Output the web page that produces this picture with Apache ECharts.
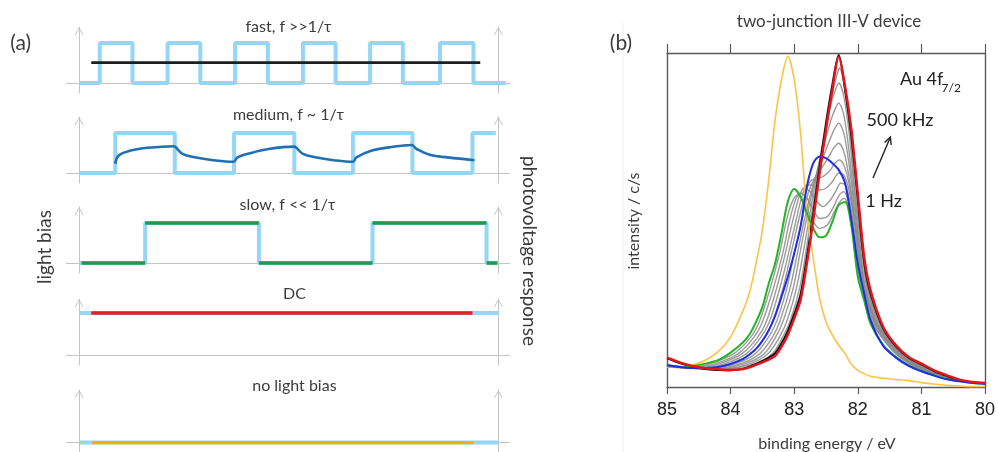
<!DOCTYPE html>
<html>
<head>
<meta charset="utf-8">
<script src="https://cdn.jsdelivr.net/npm/echarts@6/dist/echarts.min.js"></script>
<style>
  html, body { margin: 0; padding: 0; background: #ffffff; }
  #chart { width: 998px; height: 452px; }
</style>
</head>
<body>
<div id="chart"></div>
<script>
// ---------- (a) light bias waveforms, time in arbitrary units (0 .. 100 between the two axes) ----------
const fastEdges = [4.94, 12.74, 21.12, 28.92, 37.22, 45.03, 53.4, 61.2, 69.43, 77.24, 86.09, 94.08];
const fastEnd = 101.8;
const fastMeanLevel = 0.51;
const fastMeanSpan = [2.9, 95.7];

const mediumEdges = [8.64, 22.83, 36.98, 51.35, 65.33, 79.53, 93.84];
const mediumEnd = 99.4;
// photovoltage response under medium-frequency chopping: [time, level]
const mediumResponse = [
  [8.64, 0.23], [9.46, 0.44], [12.34, 0.56], [16.44, 0.63], [22.6, 0.67],
  [23.0, 0.65], [24.65, 0.48], [27.94, 0.39], [32.05, 0.32], [36.82, 0.28],
  [37.8, 0.39], [40.27, 0.48], [45.2, 0.60], [51.35, 0.66],
  [51.77, 0.64], [53.4, 0.48], [56.7, 0.39], [60.8, 0.32], [65.33, 0.28],
  [66.15, 0.39], [69.85, 0.56], [73.96, 0.64], [79.3, 0.70],
  [80.53, 0.60], [83.82, 0.45], [87.93, 0.39], [94.34, 0.32]
];

const slowEdges = [15.77, 42.9, 70.0, 97.2];
const slowStart = 0.6;
const slowEnd = 99.8;

const dcLevel = 1.05;
const dcSpan = [2.9, 93.85];
const darkSpan = [3.1, 94.1];

// ---------- (b) Au 4f7/2 spectra, binding energy (eV) vs intensity (c/s, scaled) ----------
const energy = [85.0, 84.8, 84.6, 84.4, 84.2, 84.0, 83.8, 83.7, 83.6, 83.5, 83.4, 83.3, 83.2, 83.1, 83.0, 82.9,
  82.8, 82.7, 82.6, 82.5, 82.4, 82.3, 82.2, 82.1, 82.0, 81.9, 81.8, 81.6, 81.4, 81.2, 81.0, 80.8, 80.6, 80.4, 80.2, 80.0];

const spectrumDC = [8.8, 7.4, 6.3, 5.6, 5.3, 5.1, 5.4, 5.9, 6.6, 7.4, 8.2, 9.3, 12, 15.6, 20.5, 26,
  37, 50, 64, 77, 89, 98.8, 90, 77, 58, 39, 29, 18, 12.5, 9, 7, 5, 3.5, 2.2, 1.5, 1.2];
const spectrumFast = [8.6, 7.2, 6.1, 5.4, 5.1, 5.0, 5.5, 6.1, 6.9, 7.8, 8.8, 10.1, 13, 16.8, 21.8, 27.8,
  39, 52, 66, 79, 90.5, 99.4, 89, 75, 56, 37.5, 28, 17.5, 12.2, 8.8, 6.8, 4.8, 3.3, 2.0, 1.4, 1.1];
const spectrumDark = [6, 5.8, 6.5, 8, 10.5, 15, 23, 28.5, 37, 47, 62, 80, 92, 99, 92, 76,
  52, 38.5, 26.5, 19.5, 15.5, 12.5, 10, 6.8, 5, 4, 3.2, 2.6, 2.2, 1.9, 1.3, 0.9, 0.5, 0.3, 0.1, 0.2];
const spectrumMedium = [6.6, 6, 5.7, 5.7, 6, 6.9, 8.4, 9.8, 11.4, 13.8, 17, 21.3, 27, 33, 40, 48,
  60, 67, 69, 68.5, 67, 65, 61, 50, 37, 28, 20, 12.3, 8.8, 6.3, 4.7, 3.4, 2.3, 1.7, 1.2, 1];
const spectrumSlow = [6.3, 6, 6.3, 7, 8, 10.3, 13.5, 15.8, 19.5, 24, 31, 37, 46, 55.5, 59.3, 57,
  52, 47.5, 44.8, 45.3, 49.5, 54.5, 55.4, 48, 33, 26, 19, 12.5, 9, 6.5, 4.8, 3.5, 2.4, 1.8, 1.3, 1];

// intermediate chopping frequencies, 1 Hz ... 500 kHz: [energy, intensity]
const gray1 = [[85,6.5],[84.75,6.1],[84.55,6.1],[84.32,7],[83.95,10],[83.68,15],[83.54,20],[83.37,30],[83.23,40],[83.12,50],[83.03,55.5],[82.95,57.5],[82.85,55.5],[82.73,50.5],[82.6,47.5],[82.48,48.5],[82.38,52],[82.28,55.5],[82.21,56.5],[82.14,53.5],[82.08,47],[82.03,40],[81.96,30],[81.79,20],[81.63,15],[81.41,10],[81.2,7],[80.98,5],[80.6,3],[80.3,1.7],[80,1.1]];
const gray2 = [[85,6.5],[84.75,6.1],[84.55,6],[84.24,7],[83.88,10],[83.63,15],[83.49,20],[83.32,30],[83.18,40],[83.07,50],[82.98,56],[82.9,58],[82.8,56.5],[82.7,53],[82.6,50.5],[82.48,51],[82.38,54],[82.29,57.5],[82.22,58.5],[82.15,55.5],[82.08,48],[82.02,40],[81.95,30],[81.78,20],[81.62,15],[81.39,10],[81.18,7],[80.96,5],[80.6,3],[80.3,1.7],[80,1.1]];
const gray3 = [[85,6.4],[84.75,6],[84.5,5.8],[84.17,7],[83.82,10],[83.57,15],[83.43,20],[83.27,30],[83.14,40],[83.02,50],[82.93,56.5],[82.85,59.5],[82.75,58.5],[82.64,55.5],[82.55,54],[82.45,55.5],[82.35,58.5],[82.27,61],[82.2,60.5],[82.14,57],[82.07,49],[82.0,40],[81.93,30],[81.76,20],[81.6,15],[81.38,10],[81.17,7],[80.95,5],[80.6,3],[80.3,1.7],[80,1.1]];
const gray4 = [[85,6.4],[84.75,6],[84.45,5.7],[84.09,7],[83.75,10],[83.52,15],[83.38,20],[83.22,30],[83.09,40],[82.97,50],[82.88,57],[82.8,60.5],[82.7,60.5],[82.6,59],[82.5,59.5],[82.4,61.5],[82.3,64],[82.22,63.5],[82.14,59],[82.06,50],[81.99,40],[81.92,30],[81.75,20],[81.59,15],[81.36,10],[81.15,7],[80.93,5],[80.6,3],[80.3,1.7],[80,1.1]];
const gray5 = [[85,6.3],[84.75,5.9],[84.4,5.6],[84.01,7],[83.68,10],[83.46,15],[83.33,20],[83.17,30],[83.05,40],[82.93,50],[82.83,57.5],[82.75,61.5],[82.65,62.5],[82.55,63],[82.45,64.5],[82.36,67],[82.29,68],[82.21,66],[82.13,60],[82.05,50],[81.98,40],[81.91,30],[81.74,20],[81.58,15],[81.35,10],[81.13,7],[80.91,5],[80.6,3],[80.3,1.7],[80,1.1]];
const gray6 = [[85,6.2],[84.75,5.8],[84.35,5.5],[83.92,7],[83.61,10],[83.4,15],[83.27,20],[83.11,30],[83.0,40],[82.88,50],[82.78,58],[82.68,62.5],[82.57,65.5],[82.47,68.5],[82.38,71.5],[82.3,73],[82.22,70.5],[82.14,63],[82.05,51],[81.97,40],[81.9,30],[81.73,20],[81.57,15],[81.33,10],[81.12,7],[80.89,5],[80.6,3],[80.3,1.7],[80,1.1]];
const gray7 = [[85,6.2],[84.75,5.8],[84.3,5.4],[83.84,7],[83.54,10],[83.34,15],[83.22,20],[83.06,30],[82.95,40],[82.84,50],[82.74,58],[82.64,64],[82.54,69],[82.44,74],[82.36,77.5],[82.3,79],[82.22,76],[82.14,67],[82.05,53],[81.96,40],[81.89,30],[81.72,20],[81.56,15],[81.32,10],[81.11,7],[80.87,5],[80.6,3],[80.3,1.7],[80,1.1]];
const gray8 = [[85,6.2],[84.75,5.8],[84.25,5.3],[83.77,7],[83.47,10],[83.29,15],[83.17,20],[83.01,30],[82.91,40],[82.81,50],[82.71,59],[82.61,67],[82.51,74],[82.42,80],[82.35,83.5],[82.3,85],[82.22,81.5],[82.14,71],[82.05,55],[81.95,40],[81.88,30],[81.71,20],[81.55,15],[81.3,10],[81.09,7],[80.85,5],[80.6,3],[80.3,1.7],[80,1.1]];
const gray9 = [[85,6.3],[84.75,5.8],[84.2,5.2],[83.69,7],[83.41,10],[83.23,15],[83.11,20],[82.96,30],[82.86,40],[82.77,50],[82.68,60],[82.58,70],[82.49,78.5],[82.41,85.5],[82.34,89.5],[82.3,91],[82.22,87],[82.13,75],[82.04,56],[81.93,40],[81.86,30],[81.69,20],[81.53,15],[81.29,10],[81.08,7],[80.84,5],[80.6,3],[80.3,1.7],[80,1.1]];
const gray10 = [[85,6.4],[84.75,5.9],[84.2,5.2],[83.61,7],[83.34,10],[83.18,15],[83.06,20],[82.91,30],[82.82,40],[82.74,50],[82.64,62],[82.55,72],[82.46,82],[82.38,89.5],[82.32,94],[82.29,95.5],[82.22,91],[82.13,78],[82.04,58],[81.92,40],[81.85,30],[81.68,20],[81.52,15],[81.27,10],[81.06,7],[80.82,5],[80.6,3],[80.3,1.7],[80,1.1]];
const grayFamily = [gray1, gray2, gray3, gray4, gray5, gray6, gray7, gray8, gray9, gray10];

const energyTicks = [85, 84, 83, 82, 81, 80];

// ---------- styling ----------
const LIGHT = '#95d5f5';
const AXIS_A = '#c4c4c4';
const TEXT = '#3c3c3c';
const FONT = 'Lato, "Open Sans", sans-serif';
const CHEVRON = 'path://M0,8L4.5,0L9,8L8,8L4.5,1.8L1,8Z';

// ---------- helpers to turn edge lists into step data ----------
function squareWave(start, edges, end, high) {
  const pts = [[start, 0]];
  let level = 0;
  edges.forEach(e => { level = level === 0 ? high : 0; pts.push([e, level]); });
  pts.push([end, level]);
  return pts;
}
function plateaus(start, edges, end, high) {
  const bounds = [start].concat(edges, [end]);
  const pts = [];
  for (let i = 0; i < bounds.length - 1; i++) {
    const lv = i % 2 === 0 ? 0 : high;
    if (i > 0) pts.push([bounds[i], null]);
    pts.push([bounds[i], lv], [bounds[i + 1], lv]);
  }
  return pts;
}
const zipE = vals => energy.map((e, i) => [e, vals[i]]);

// ---------- panel (a) grids ----------
const rowTops = [27, 117, 207, 299, 390];
const grid = [], xAxis = [], yAxis = [], series = [];
rowTops.forEach((top, i) => {
  grid.push({ left: 66.5, top: top, width: 443.1, height: 66 });
  xAxis.push({
    gridIndex: i, type: 'value', min: -3, max: 102.7,
    axisLine: { show: true, onZero: true, lineStyle: { color: AXIS_A, width: 1 } },
    axisTick: { show: false }, axisLabel: { show: false }, splitLine: { show: false }
  });
  const yBase = {
    gridIndex: i, type: 'value', min: -0.25, max: 1.4,
    axisTick: { show: false }, axisLabel: { show: false }, splitLine: { show: false }
  };
  yAxis.push(Object.assign({}, yBase, {
    position: 'left',
    axisLine: { show: true, onZero: true, symbol: ['none', CHEVRON], symbolSize: [9, 8], symbolOffset: [0, -4],
      lineStyle: { color: AXIS_A, width: 1 } }
  }));
  yAxis.push(Object.assign({}, yBase, {
    position: 'right', offset: -11.3,
    axisLine: { show: true, onZero: false, symbol: ['none', CHEVRON], symbolSize: [9, 8], symbolOffset: [0, -4],
      lineStyle: { color: AXIS_A, width: 1 } }
  }));
});

function lineA(row, data, color, width, extra) {
  return Object.assign({
    type: 'line', xAxisIndex: row, yAxisIndex: row * 2, data: data,
    symbol: 'none', silent: true, animation: false, connectNulls: false,
    lineStyle: { color: color, width: width }
  }, extra || {});
}

// fast
series.push(lineA(0, squareWave(0, fastEdges, fastEnd, 1), LIGHT, 4, { step: 'end' }));
series.push(lineA(0, [[fastMeanSpan[0], fastMeanLevel], [fastMeanSpan[1], fastMeanLevel]], '#1e1e1e', 2.6));
// medium
series.push(lineA(1, squareWave(0, mediumEdges, mediumEnd, 1), LIGHT, 4, { step: 'end' }));
series.push(lineA(1, mediumResponse, '#1f6fb4', 2.6, { smooth: 0.4 }));
// slow
series.push(lineA(2, squareWave(0, slowEdges, slowEnd, 1), LIGHT, 4, { step: 'end' }));
series.push(lineA(2, plateaus(slowStart, slowEdges, slowEnd, 1), '#1f9c48', 3.6));
// DC
series.push(lineA(3, [[0, dcLevel], [100, dcLevel]], LIGHT, 4));
series.push(lineA(3, [[dcSpan[0], dcLevel], [dcSpan[1], dcLevel]], '#ee1c24', 3.4));
// no light bias
series.push(lineA(4, [[0, 0], [100, 0]], LIGHT, 4));
series.push(lineA(4, [[darkSpan[0], 0], [darkSpan[1], 0]], '#f4b000', 3.4));

// ---------- panel (b) ----------
grid.push({ left: 667, top: 53, width: 319, height: 334 });
const frame = { show: true, lineStyle: { color: '#5a5a5a', width: 1.4 } };
xAxis.push({
  gridIndex: 5, type: 'value', min: 80, max: 85, interval: 1, inverse: true, position: 'bottom',
  axisLine: Object.assign({ onZero: false }, frame),
  axisTick: { show: true, inside: false, length: 7, lineStyle: { color: '#5a5a5a', width: 1.2 } },
  axisLabel: { show: true, margin: 14, fontSize: 18, color: '#222', fontFamily: '"Liberation Sans", Arial, sans-serif',
    formatter: v => energyTicks.indexOf(v) >= 0 ? String(v) : '' },
  splitLine: { show: false }
});
xAxis.push({
  gridIndex: 5, type: 'value', min: 80, max: 85, interval: 1, inverse: true, position: 'top',
  axisLine: Object.assign({ onZero: false }, frame),
  axisTick: { show: true, inside: false, length: 9, lineStyle: { color: '#5a5a5a', width: 1.2 } },
  axisLabel: { show: false }, splitLine: { show: false }
});
yAxis.push({
  gridIndex: 5, type: 'value', min: 0, max: 100, position: 'left',
  axisLine: Object.assign({ onZero: false }, frame),
  axisTick: { show: false }, axisLabel: { show: false }, splitLine: { show: false }
});
yAxis.push({
  gridIndex: 5, type: 'value', min: 0, max: 100, position: 'right',
  axisLine: Object.assign({ onZero: false }, frame),
  axisTick: { show: false }, axisLabel: { show: false }, splitLine: { show: false }
});

function lineB(data, color, width, z) {
  return {
    type: 'line', xAxisIndex: 5, yAxisIndex: 10, data: data, symbol: 'none', silent: true,
    animation: false, smooth: 0.3, z: z,
    lineStyle: { color: color, width: width, join: 'round' }
  };
}
grayFamily.forEach(g => series.push(lineB(g, 'rgba(138,138,138,0.85)', 1.4, 2)));
series.push(lineB(zipE(spectrumFast), '#111111', 2, 3));
series.push(lineB(zipE(spectrumDark), '#ffc247', 1.6, 4));
series.push(lineB(zipE(spectrumSlow), '#22b525', 2, 5));
series.push(lineB(zipE(spectrumMedium), '#1f2ee6', 2, 6));
series.push(lineB(zipE(spectrumDC), '#e8121b', 2.4, 7));

// ---------- text annotations ----------
function label(text, x, y, size, opts) {
  opts = opts || {};
  return {
    type: 'text', x: x, y: y, rotation: opts.rotation || 0, silent: true, z: 20,
    style: {
      text: text, fill: opts.color || TEXT, font: (opts.weight || 'normal') + ' ' + size + 'px ' + (opts.family || FONT),
      textAlign: opts.align || 'center', textVerticalAlign: 'middle',
      align: opts.align || 'center', verticalAlign: 'middle'
    }
  };
}
const graphic = [
  label('(a)', 20.7, 43.5, 21),
  label('fast, f >>1/\u03c4', 288.5, 27, 16),
  label('medium, f ~ 1/\u03c4', 288.5, 115, 16),
  label('slow, f << 1/\u03c4', 287.5, 205, 16),
  label('DC', 294.5, 294, 16),
  label('no light bias', 294.4, 386, 16),
  label('light bias', 44.8, 247, 19, { rotation: Math.PI / 2 }),
  label('photovoltage response', 529, 251, 19, { rotation: -Math.PI / 2 }),
  label('(b)', 621, 43.5, 21),
  label('two-junction III-V device', 829, 22, 17),
  label('Au 4f', 900, 79, 18, { align: 'left', color: '#222' }),
  label('7/2', 941.5, 88, 12, { align: 'left', color: '#222' }),
  label('500 kHz', 900, 120, 18, { color: '#222' }),
  label('1 Hz', 883.5, 201, 18, { color: '#222' }),
  label('intensity / c/s', 634, 221, 16, { rotation: Math.PI / 2 }),
  label('binding energy / eV', 827, 444, 16),
  {
    type: 'line', silent: true, z: 20,
    shape: { x1: 873, y1: 178, x2: 889.8, y2: 138.5 },
    style: { stroke: '#222', lineWidth: 1.4 }
  },
  {
    type: 'polyline', silent: true, z: 20,
    shape: { points: [[884.6, 142.6], [890.4, 137], [891.2, 145]] },
    style: { stroke: '#222', lineWidth: 1.4, fill: null }
  },
  {
    type: 'line', silent: true, z: 0,
    shape: { x1: 623, y1: 23, x2: 623, y2: 452 },
    style: { stroke: '#efefef', lineWidth: 1 }
  }
];

const chart = echarts.init(document.getElementById('chart'), null, { renderer: 'canvas' });
chart.setOption({
  animation: false,
  backgroundColor: '#ffffff',
  grid: grid,
  xAxis: xAxis,
  yAxis: yAxis,
  series: series,
  graphic: { elements: graphic }
});
</script>
</body>
</html>
